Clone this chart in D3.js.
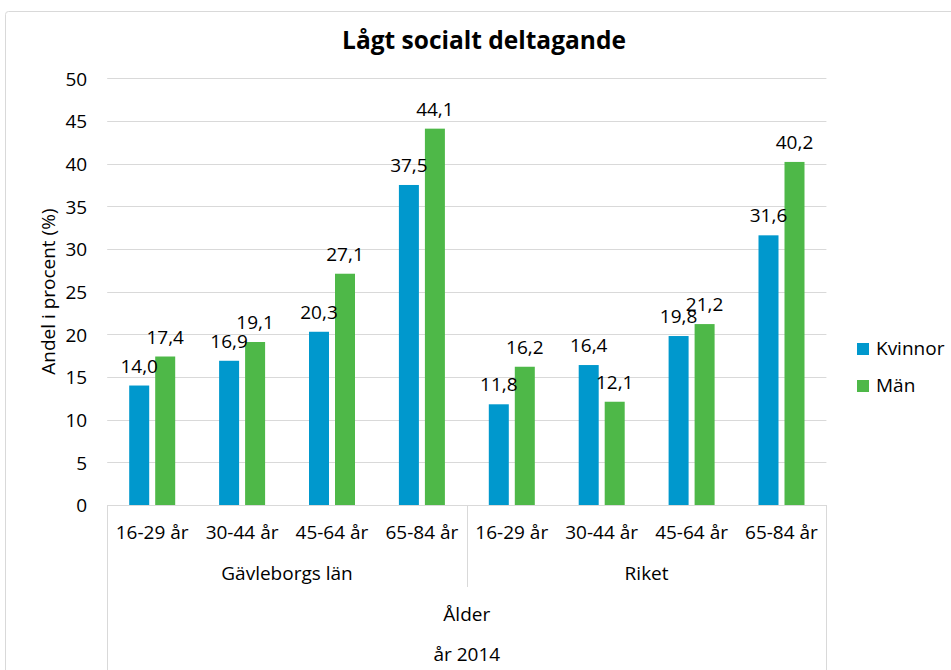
<!DOCTYPE html>
<html>
<head>
<meta charset="utf-8">
<script src="https://cdn.jsdelivr.net/npm/d3@7"></script>
<style>
  html, body { margin: 0; padding: 0; background: #fff; }
  svg { display: block; }
  text { font-family: "Open Sans", sans-serif; fill: #000; }
</style>
</head>
<body>
<svg id="chart" width="951" height="670"></svg>
<script>
const title = "Lågt socialt deltagande";
const yTitle = "Andel i procent (%)";
const ageGroups = ["16-29 år", "30-44 år", "45-64 år", "65-84 år"];
const regions = ["Gävleborgs län", "Riket"];
const seriesNames = ["Kvinnor", "Män"];
const kvinnor = [14.0, 16.9, 20.3, 37.5, 11.8, 16.4, 19.8, 31.6];
const man = [17.4, 19.1, 27.1, 44.1, 16.2, 12.1, 21.2, 40.2];
const yTicks = [0, 5, 10, 15, 20, 25, 30, 35, 40, 45, 50];
const axisTitle1 = "Ålder";
const axisTitle2 = "år 2014";
const colors = ["#0098CD", "#4EB848"];

(function () {
const svg = d3.select("#chart");
const pLeft = 107.2, pRight = 826.4, pTop = 78.3, pBottom = 505;

// frame
svg.append("rect").attr("x", 5.5).attr("y", 11.5).attr("width", 1000).attr("height", 1000)
  .attr("rx", 3).attr("fill", "#fff").attr("stroke", "#d9d9d9");

const categories = [];
regions.forEach(r => ageGroups.forEach(a => categories.push(r + "|" + a)));
const data = categories.map((c, i) => ({cat: c, age: c.split("|")[1], vals: [kvinnor[i], man[i]]}));

const x0 = d3.scaleBand().domain(categories).range([pLeft, pRight]);
const x1 = d3.scaleBand().domain(seriesNames).range([22, 68]).paddingInner(0.2308);
const y = d3.scaleLinear().domain([0, 50]).range([pBottom, pTop]);

// gridlines
svg.append("g").selectAll("line").data(yTicks.filter(t => t > 0)).join("line")
  .attr("x1", pLeft).attr("x2", pRight)
  .attr("y1", d => Math.round(y(d)) + 0.5).attr("y2", d => Math.round(y(d)) + 0.5)
  .attr("stroke", "#d9d9d9").attr("stroke-width", 1);

// y axis labels
const yAxis = d3.axisLeft(y).tickValues(yTicks).tickSize(0).tickPadding(0).tickFormat(d3.format("d"));
const yg = svg.append("g").attr("transform", `translate(${pLeft - 20},0)`).call(yAxis);
yg.select(".domain").remove();
yg.selectAll("text").attr("font-size", 19).attr("font-family", "Open Sans").attr("fill", "#000").attr("dy", "0.36em");

// y title
svg.append("text").attr("transform", `translate(55,${(pTop + pBottom) / 2}) rotate(-90)`)
  .attr("text-anchor", "middle").attr("font-size", 19).text(yTitle);

// bars
const groups = svg.append("g").selectAll("g").data(data).join("g")
  .attr("transform", d => `translate(${x0(d.cat)},0)`);
groups.selectAll("rect").data(d => d.vals.map((v, i) => ({s: seriesNames[i], v, i}))).join("rect")
  .attr("x", d => x1(d.s)).attr("width", x1.bandwidth())
  .attr("y", d => y(d.v)).attr("height", d => y(0) - y(d.v))
  .attr("fill", d => colors[d.i]);
groups.selectAll("text.lbl").data(d => d.vals.map((v, i) => ({s: seriesNames[i], v, i}))).join("text")
  .attr("class", "lbl")
  .attr("x", d => x1(d.s) + x1.bandwidth() / 2).attr("y", d => y(d.v) - 13)
  .attr("text-anchor", "middle").attr("font-size", 19)
  .text(d => d.v.toFixed(1).replace(".", ","));

// category axis
const axisG = svg.append("g");
axisG.append("line").attr("x1", pLeft).attr("x2", pRight).attr("y1", pBottom + 0.5).attr("y2", pBottom + 0.5)
  .attr("stroke", "#d9d9d9");
[pLeft, pRight].forEach(xv => axisG.append("line").attr("x1", Math.round(xv) + 0.5).attr("x2", Math.round(xv) + 0.5)
  .attr("y1", pBottom).attr("y2", 670).attr("stroke", "#d9d9d9"));
const mid = x0(regions[1] + "|" + ageGroups[0]);
axisG.append("line").attr("x1", Math.round(mid) + 0.5).attr("x2", Math.round(mid) + 0.5)
  .attr("y1", pBottom).attr("y2", 587).attr("stroke", "#d9d9d9");

axisG.selectAll("text.age").data(data).join("text").attr("class", "age")
  .attr("x", d => x0(d.cat) + x0.bandwidth() / 2).attr("y", 539)
  .attr("text-anchor", "middle").attr("font-size", 19).text(d => d.age);

axisG.selectAll("text.reg").data(regions).join("text").attr("class", "reg")
  .attr("x", r => (x0(r + "|" + ageGroups[0]) + x0(r + "|" + ageGroups[ageGroups.length - 1]) + x0.bandwidth()) / 2)
  .attr("y", 580).attr("text-anchor", "middle").attr("font-size", 19).text(r => r);

axisG.append("text").attr("x", (pLeft + pRight) / 2).attr("y", 621).attr("text-anchor", "middle")
  .attr("font-size", 19).text(axisTitle1);
axisG.append("text").attr("x", (pLeft + pRight) / 2).attr("y", 661).attr("text-anchor", "middle")
  .attr("font-size", 19).text(axisTitle2);

// title
svg.append("text").attr("x", 484).attr("y", 49).attr("text-anchor", "middle")
  .attr("font-family", "Liberation Sans, Arial, sans-serif").attr("font-weight", "bold")
  .attr("font-size", 24.5).text(title);

// legend
const leg = svg.append("g").selectAll("g").data(seriesNames).join("g")
  .attr("transform", (d, i) => `translate(857,${343 + i * 37})`);
leg.append("rect").attr("width", 12).attr("height", 12).attr("fill", (d, i) => colors[i]);
leg.append("text").attr("x", 19).attr("y", 12).attr("font-size", 19).text(d => d);
})();
</script>
</body>
</html>
